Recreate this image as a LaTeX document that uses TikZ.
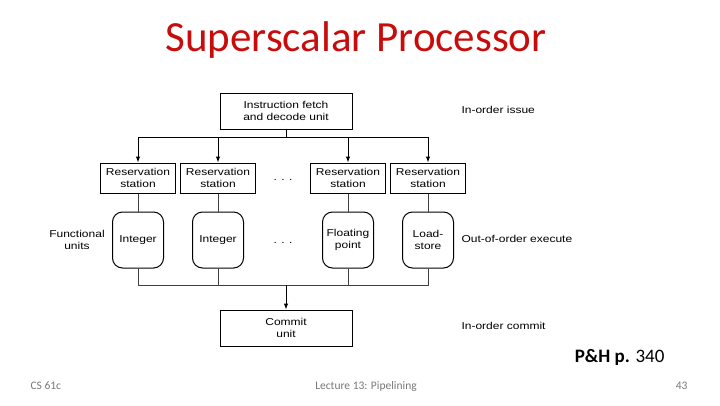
\documentclass[tikz,border=0pt]{standalone}
\usepackage{fontspec}
\usepackage{tikz}
\usetikzlibrary{arrows.meta, positioning, calc}
\newfontfamily\diagfont[FakeStretch=1.2]{Liberation Sans}
\newfontfamily\slidefont{Carlito}
\definecolor{titlered}{RGB}{200,12,12}
\definecolor{footgray}{RGB}{120,120,120}
\tikzset{
  unitbox/.style={
    rectangle, draw=black, line width=1pt, minimum width=132pt, minimum height=36pt,
    align=center, inner sep=1pt, font=\diagfont\fontsize{10}{11.5}\selectfont
  },
  station/.style={unitbox, minimum width=75pt, minimum height=30pt},
  funit/.style={unitbox, rounded corners=10pt, minimum width=51pt, minimum height=56pt},
  edge/.style={-{Latex[length=6pt,width=4.5pt]}, line width=1pt},
  link/.style={line width=0.9pt, draw=black!75},
  sidelabel/.style={anchor=west, align=left, font=\diagfont\fontsize{10}{11.5}\selectfont},
  dots/.style={font=\diagfont\fontsize{10}{11.5}\selectfont},
  footer/.style={text=footgray, font=\slidefont\fontsize{11.5}{13}\selectfont}
}

\begin{document}
\begin{tikzpicture}[x=1pt, y=-1pt]
    \useasboundingbox (0,0) rectangle (720,405);

    % Title
    \node[font=\slidefont\fontsize{43}{48}\selectfont, text=titlered] (title) at (356,40) {Superscalar Processor};

    % Issue
    \node[unitbox] (fetch) at (286,111) {Instruction fetch\\and decode unit};

    % Reservation stations
    \node[station] (rs1) at (138,178) {Reservation\\station};
    \node[station] (rs2) at (218,178) {Reservation\\station};
    \node[dots] (rsdots) at (283,180) {. . .};
    \node[station] (rs3) at (348,178) {Reservation\\station};
    \node[station] (rs4) at (428,178) {Reservation\\station};

    % Functional units
    \node[funit] (fu1) at (138,240) {Integer};
    \node[funit] (fu2) at (218,240) {Integer};
    \node[dots] (fudots) at (283,243) {. . .};
    \node[funit] (fu3) at (348,240) {Floating\\point};
    \node[funit] (fu4) at (428,240) {Load-\\store};

    % Commit
    \node[unitbox] (commit) at (286,328) {Commit\\unit};

    % Labels
    \node[sidelabel] (issue) at (458,110) {In-order issue};
    \node[sidelabel, align=center, anchor=center] (fulabel) at (77,240) {Functional\\units};
    \node[sidelabel] (execute) at (458,239) {Out-of-order execute};
    \node[sidelabel] (inorder) at (458,326) {In-order commit};

    % Connectors
    \foreach \n in {rs1,rs2,rs3,rs4}
      \draw[edge] (fetch.south) -- ++(0,8) -| (\n.north);
    \foreach \i in {1,...,4}
      \draw[link] (rs\i.south) -- (fu\i.north);
    \coordinate (join) at (286,285);
    \foreach \i in {1,...,4}
      \draw[link] (fu\i.south) |- (join);
    \draw[edge] (join) -- (commit.north);

    % Reference and footer
    \node[anchor=east, font=\slidefont\fontsize{19}{22}\selectfont] (ref) at (668,357) {\textbf{P\&H p.} 340};
    \node[footer, anchor=west] (course) at (27,386) {CS 61c};
    \node[footer] (lecture) at (366,386) {Lecture 13: Pipelining};
    \node[footer, anchor=east] (page) at (691,386) {43};
\end{tikzpicture}
\end{document}
